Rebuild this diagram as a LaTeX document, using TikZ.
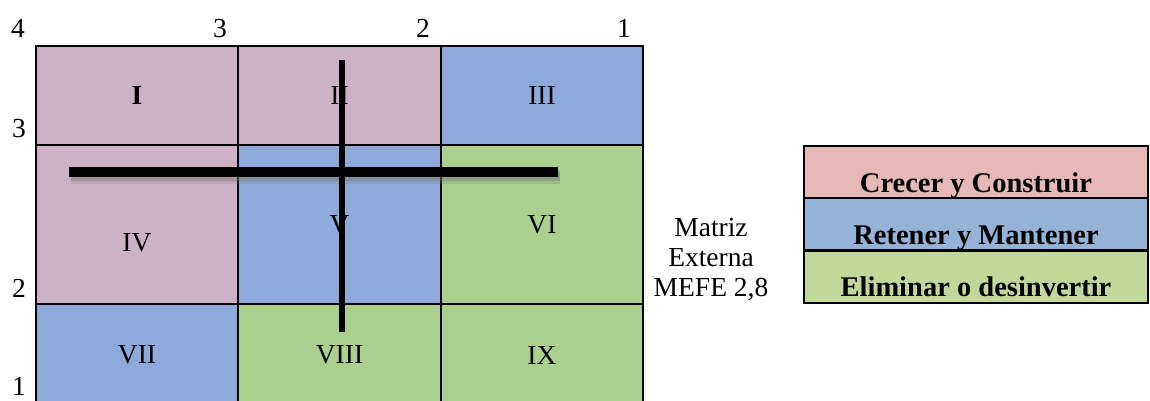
\documentclass[tikz,border=0pt]{standalone}
\usepackage{fontspec}
\setmainfont{Liberation Serif}
\definecolor{mpink}{RGB}{205,178,198}
\definecolor{mblue}{RGB}{142,170,219}
\definecolor{mgreen}{RGB}{169,208,142}
\definecolor{lpink}{RGB}{230,184,183}
\definecolor{lblue}{RGB}{149,179,215}
\definecolor{lgreen}{RGB}{196,215,155}
\begin{document}
\begin{tikzpicture}[x=1pt,y=-1pt,
  cell/.style={draw=black,line width=1.3pt,inner sep=0pt,outer sep=0pt,
    font=\fontsize{27.5}{30}\selectfont},
  axis/.style={inner sep=0pt,anchor=base east,font=\fontsize{27.5}{30}\selectfont},
  legrow/.style={draw=black,line width=2pt,inner sep=0pt,outer sep=0pt,
    minimum width=344pt,minimum height=52pt,text height=46pt,text depth=6pt,
    font=\fontsize{28.5}{30}\selectfont\bfseries},
  bar/.style={draw=black,line cap=butt}
]
\useasboundingbox (0,0) rectangle (1150,400);
\fill[white] (0,0) rectangle (1150,400);
% row 1
\node[cell,fill=mpink,minimum width=202pt,minimum height=99pt] (c1) at (137,95.5) {\textbf{I}};
\node[cell,fill=mpink,minimum width=203pt,minimum height=99pt] (c2) at (339.5,95.5) {II};
\node[cell,fill=mblue,minimum width=202pt,minimum height=99pt] (c3) at (542,95.5) {III};
% row 2
\node[cell,fill=mpink,minimum width=202pt,minimum height=159pt] (c4) at (137,224.5) {};
\node[inner sep=0pt,font=\fontsize{27.5}{30}\selectfont] (t4) at ([yshift=-18pt]c4.center) {IV};
\node[cell,fill=mblue,minimum width=203pt,minimum height=159pt] (c5) at (339.5,224.5) {V};
\node[cell,fill=mgreen,minimum width=202pt,minimum height=159pt] (c6) at (542,224.5) {VI};
% row 3
\node[cell,fill=mblue,minimum width=202pt,minimum height=102pt] (c7) at (137,355) {VII};
\node[cell,fill=mgreen,minimum width=203pt,minimum height=102pt] (c8) at (339.5,355) {VIII};
\node[cell,fill=mgreen,minimum width=202pt,minimum height=102pt] (c9) at (542,355) {IX};
% axis labels
\node[axis] (a4) at (25,37) {4};
\node[axis] (a3) at (227,37) {3};
\node[axis] (a2) at (430,37) {2};
\node[axis] (a1) at (631,37) {1};
\node[axis] (l3) at (26,137) {3};
\node[axis] (l2) at (26,297) {2};
\node[axis] (l1) at (26,395) {1};
% bars
\coordinate (hL) at (69,172);
\coordinate (hR) at (558,172);
\coordinate (vT) at (342,60);
\coordinate (vB) at (342,332);
\draw[bar,line width=9.5pt,
  preaction={draw=black!60,opacity=0.35,line width=10pt,transform canvas={shift={(2pt,-4pt)}}},
  preaction={draw=black!50,opacity=0.25,line width=13pt,transform canvas={shift={(2pt,-5pt)}}}]
  (hL) -- (hR);
\draw[bar,line width=5.5pt] (vT) -- (vB);
% side text
\node[inner sep=0pt,align=center,font=\fontsize{27.5}{30}\selectfont] (mefe) at (711,259.5) {Matriz\\Externa\\MEFE 2,8};
% legend
\node[legrow,fill=lpink] (g1) at (976,172) {Crecer y Construir};
\node[legrow,fill=lblue] (g2) at (976,224) {Retener y Mantener};
\node[legrow,fill=lgreen] (g3) at (976,276.5) {Eliminar o desinvertir};
\end{tikzpicture}
\end{document}
